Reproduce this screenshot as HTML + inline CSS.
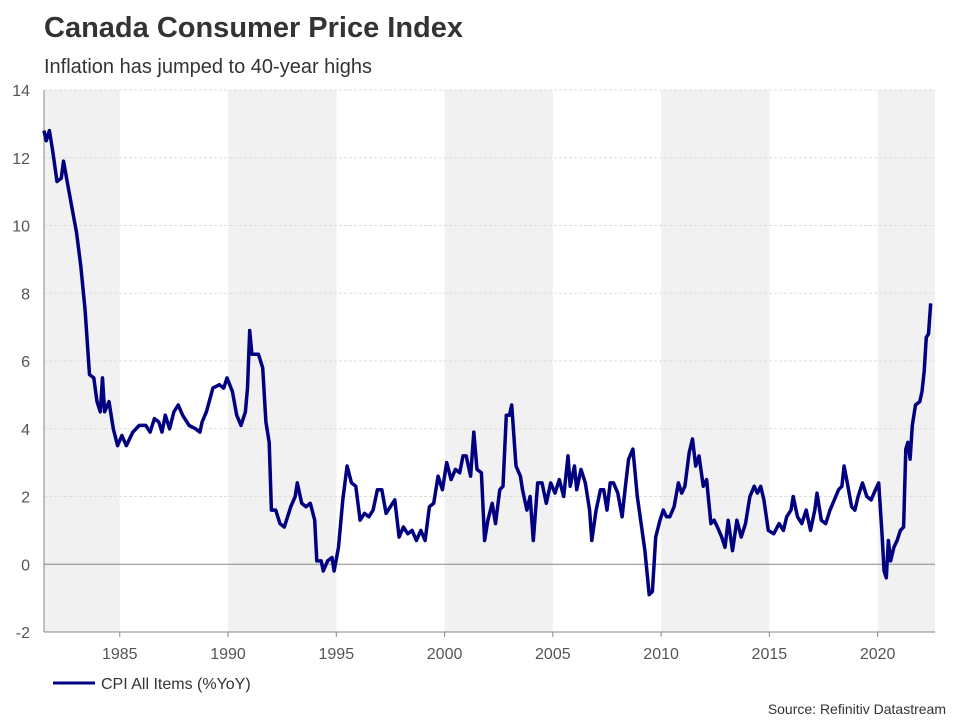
<!DOCTYPE html>
<html><head><meta charset="utf-8"><style>
body{margin:0;background:#fff;font-family:"Liberation Sans",Arial,sans-serif}
svg text{font-family:"Liberation Sans",Arial,sans-serif}
</style></head><body>
<svg id="chart" width="960" height="720">
<text x="44" y="37" font-size="29" font-weight="bold" fill="#333">Canada Consumer Price Index</text>
<text x="44" y="73" font-size="20" fill="#333">Inflation has jumped to 40-year highs</text>
<g id="bands"></g><g id="grid"></g><g id="axes"></g><g id="series"></g>
<line x1="53" y1="683" x2="95" y2="683" stroke="#000080" stroke-width="3"/>
<text x="101" y="689" font-size="16" fill="#333">CPI All Items (%YoY)</text>
<text x="946" y="714" font-size="14" fill="#333" text-anchor="end">Source: Refinitiv Datastream</text>
</svg>
<script>
const years=[1981.5,1981.6,1981.75,1981.9,1982.1,1982.3,1982.4,1982.6,1982.8,1983.0,1983.2,1983.4,1983.6,1983.8,1983.95,1984.1,1984.2,1984.3,1984.5,1984.7,1984.9,1985.1,1985.3,1985.6,1985.9,1986.2,1986.4,1986.6,1986.8,1986.95,1987.1,1987.3,1987.5,1987.7,1987.9,1988.2,1988.5,1988.7,1988.8,1989.0,1989.3,1989.6,1989.8,1989.95,1990.2,1990.4,1990.6,1990.8,1990.9,1991.0,1991.1,1991.4,1991.6,1991.75,1991.9,1992.0,1992.2,1992.4,1992.6,1992.9,1993.1,1993.2,1993.4,1993.6,1993.8,1994.0,1994.1,1994.3,1994.4,1994.6,1994.8,1994.9,1995.1,1995.3,1995.5,1995.7,1995.9,1996.1,1996.3,1996.5,1996.7,1996.9,1997.1,1997.3,1997.5,1997.7,1997.9,1998.1,1998.3,1998.5,1998.7,1998.9,1999.1,1999.3,1999.5,1999.7,1999.9,2000.1,2000.3,2000.5,2000.7,2000.85,2001.0,2001.2,2001.35,2001.5,2001.7,2001.85,2002.0,2002.2,2002.35,2002.55,2002.7,2002.85,2003.0,2003.1,2003.3,2003.5,2003.6,2003.8,2003.95,2004.1,2004.3,2004.5,2004.7,2004.9,2005.1,2005.3,2005.5,2005.7,2005.8,2006.0,2006.1,2006.3,2006.5,2006.7,2006.8,2007.0,2007.2,2007.35,2007.5,2007.65,2007.8,2008.0,2008.2,2008.35,2008.5,2008.7,2008.9,2009.1,2009.25,2009.45,2009.6,2009.75,2009.95,2010.1,2010.25,2010.4,2010.6,2010.8,2010.95,2011.1,2011.3,2011.45,2011.6,2011.75,2011.95,2012.1,2012.3,2012.45,2012.6,2012.8,2012.95,2013.1,2013.3,2013.5,2013.7,2013.9,2014.1,2014.3,2014.45,2014.6,2014.75,2014.95,2015.2,2015.45,2015.65,2015.8,2016.0,2016.1,2016.3,2016.5,2016.7,2016.9,2017.1,2017.2,2017.4,2017.6,2017.8,2018.0,2018.2,2018.35,2018.45,2018.6,2018.8,2018.95,2019.1,2019.3,2019.5,2019.7,2019.9,2020.05,2020.2,2020.3,2020.4,2020.5,2020.6,2020.75,2020.9,2021.05,2021.2,2021.3,2021.4,2021.5,2021.6,2021.75,2021.95,2022.05,2022.15,2022.25,2022.35,2022.45];
const cpi=[12.8,12.5,12.8,12.2,11.3,11.4,11.9,11.2,10.5,9.8,8.8,7.5,5.6,5.5,4.8,4.5,5.5,4.5,4.8,4.0,3.5,3.8,3.5,3.9,4.1,4.1,3.9,4.3,4.2,3.9,4.4,4.0,4.5,4.7,4.4,4.1,4.0,3.9,4.2,4.5,5.2,5.3,5.2,5.5,5.1,4.4,4.1,4.5,5.2,6.9,6.2,6.2,5.8,4.2,3.6,1.6,1.6,1.2,1.1,1.7,2.0,2.4,1.8,1.7,1.8,1.3,0.1,0.1,-0.2,0.1,0.2,-0.2,0.5,1.9,2.9,2.4,2.3,1.3,1.5,1.4,1.6,2.2,2.2,1.5,1.7,1.9,0.8,1.1,0.9,1.0,0.7,1.0,0.7,1.7,1.8,2.6,2.2,3.0,2.5,2.8,2.7,3.2,3.2,2.6,3.9,2.8,2.7,0.7,1.3,1.8,1.2,2.2,2.3,4.4,4.4,4.7,2.9,2.6,2.2,1.6,2.0,0.7,2.4,2.4,1.8,2.4,2.1,2.5,2.0,3.2,2.3,2.9,2.2,2.8,2.4,1.6,0.7,1.6,2.2,2.2,1.6,2.4,2.4,2.1,1.4,2.3,3.1,3.4,2.0,1.1,0.4,-0.9,-0.8,0.8,1.3,1.6,1.4,1.4,1.7,2.4,2.1,2.3,3.3,3.7,2.9,3.2,2.3,2.5,1.2,1.3,1.1,0.8,0.5,1.3,0.4,1.3,0.8,1.2,2.0,2.3,2.1,2.3,1.9,1.0,0.9,1.2,1.0,1.4,1.6,2.0,1.4,1.2,1.6,1.0,1.6,2.1,1.3,1.2,1.6,1.9,2.2,2.3,2.9,2.4,1.7,1.6,2.0,2.4,2.0,1.9,2.2,2.4,0.9,-0.2,-0.4,0.7,0.1,0.5,0.7,1.0,1.1,3.4,3.6,3.1,4.1,4.7,4.8,5.1,5.7,6.7,6.8,7.7];
const yTicks=[-2,0,2,4,6,8,10,12,14];
const xTicks=[1985,1990,1995,2000,2005,2010,2015,2020];
const bandStarts=[1980,1990,2000,2010,2020];
const X0=44,X1=935,Y0=90,Y1=632,XMIN=1981.5,XMAX=2022.65,YMIN=-2,YMAX=14;
const sx=v=>X0+(v-XMIN)/(XMAX-XMIN)*(X1-X0);
const sy=v=>Y1-(v-YMIN)/(YMAX-YMIN)*(Y1-Y0);
const NS='http://www.w3.org/2000/svg';
function mk(t,a,p){const e=document.createElementNS(NS,t);for(const k in a)e.setAttribute(k,a[k]);p.appendChild(e);return e;}
const gB=document.getElementById('bands'),gG=document.getElementById('grid'),gA=document.getElementById('axes'),gS=document.getElementById('series');
bandStarts.forEach(b=>{const a=Math.max(sx(b),X0),c=Math.min(sx(b+5),X1);
const r=mk('rect',{x:a,y:Y0,width:c-a,height:Y1-Y0,fill:'#f1f1f1'},gB);

});
yTicks.forEach(t=>{const y=sy(t);
const l=mk('line',{x1:X0,x2:X1,y1:y,y2:y,stroke:t===0?'#888':'#ddd','stroke-width':1,'stroke-dasharray':t===0?'':'3,2'},gG);


const tx=mk('text',{x:X0-14,y:y+6,'font-size':16,fill:'#555','text-anchor':'end'},gA);tx.textContent=t;

});
mk('line',{x1:X0,x2:X0,y1:Y0,y2:Y1,stroke:'#888'},gA);
mk('line',{x1:X0,x2:X1,y1:Y1,y2:Y1,stroke:'#888'},gA);
xTicks.forEach(t=>{const x=sx(t);mk('line',{x1:x,x2:x,y1:Y1,y2:Y1+5,stroke:'#888'},gA);
const tx=mk('text',{x:x,y:Y1+27,'font-size':16,fill:'#555','text-anchor':'middle'},gA);tx.textContent=t;

});
const d=years.map((y,i)=>(i?'L':'M')+sx(y).toFixed(1)+','+sy(cpi[i]).toFixed(1)).join('');
const p=mk('path',{d:d,fill:'none',stroke:'#000080','stroke-width':3.5,'stroke-linejoin':'round'},gS);


</script>
</body></html>
